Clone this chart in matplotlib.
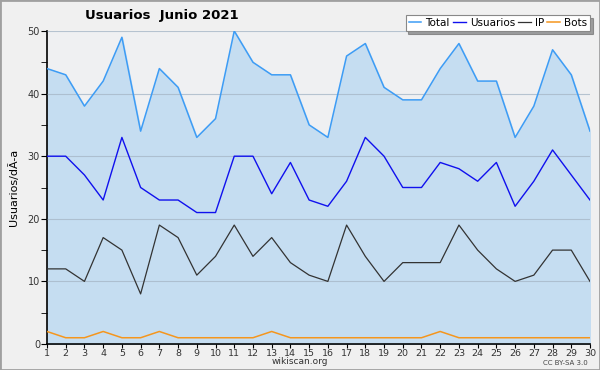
import matplotlib
matplotlib.use("Agg")
import matplotlib.pyplot as plt
from matplotlib.patches import Rectangle

days = list(range(1, 31))
total = [44, 43, 38, 42, 49, 34, 44, 41, 33, 36, 50, 45, 43, 43, 35, 33, 46, 48, 41, 39, 39, 44, 48, 42, 42, 33, 38, 47, 43, 34]
usuarios = [30, 30, 27, 23, 33, 25, 23, 23, 21, 21, 30, 30, 24, 29, 23, 22, 26, 33, 30, 25, 25, 29, 28, 26, 29, 22, 26, 31, 27, 23]
ip = [12, 12, 10, 17, 15, 8, 19, 17, 11, 14, 19, 14, 17, 13, 11, 10, 19, 14, 10, 13, 13, 13, 19, 15, 12, 10, 11, 15, 15, 10]
bots = [2, 1, 1, 2, 1, 1, 2, 1, 1, 1, 1, 1, 2, 1, 1, 1, 1, 1, 1, 1, 1, 2, 1, 1, 1, 1, 1, 1, 1, 1]
yticks = [0, 10, 20, 30, 40, 50]

fig = plt.figure(figsize=(6, 3.7), dpi=100, facecolor="#f0f0f0")
fig.patches.append(Rectangle((0, 0), 1, 1, transform=fig.transFigure, fill=False,
                             edgecolor="#a0a0a0", linewidth=2))
ax = fig.add_axes([47/600, 1 - 344/370, 543/600, 313/370])
ax.set_facecolor("#eff0f2")

ax.fill_between(days, total, 0, color="#c5ddf1", zorder=1)
ax.plot(days, total, color="#3d9cf5", lw=1.1, label="Total", zorder=3)
ax.plot(days, usuarios, color="#1010ee", lw=1.0, label="Usuarios", zorder=3)
ax.plot(days, ip, color="#333333", lw=0.9, label="IP", zorder=3)
ax.plot(days, bots, color="#f5961e", lw=1.1, label="Bots", zorder=3)

ax.set_xlim(1, 30)
ax.set_ylim(0, 50)
ax.set_xticks(days)
ax.set_yticks(yticks)
ax.set_yticks([5, 15, 25, 35, 45], minor=True)
ax.grid(axis="y", color="#a8b8c8", lw=0.8, alpha=0.8, zorder=2)
ax.set_axisbelow(False)
for s in ["top", "right"]:
    ax.spines[s].set_visible(False)
ax.spines["left"].set_linewidth(1.2)
ax.spines["bottom"].set_linewidth(1.2)
ax.tick_params(axis="x", which="major", labelsize=6.8, length=3, color="black", labelcolor="#333333", pad=0.5)
ax.tick_params(axis="y", which="major", labelsize=7, length=4, color="black", labelcolor="#333333", pad=1)
ax.tick_params(axis="y", which="minor", length=4)
ax.set_ylabel("Usuarios/dÃ-a", fontsize=8, labelpad=6)

fig.text(85/600, 1 - 16/370, "Usuarios  Junio 2021", fontsize=9.5, fontweight="bold", va="center", ha="left")
fig.text(300/600, 1 - 362/370, "wikiscan.org", fontsize=6.5, ha="center", va="center", color="#333333")
fig.text(588/600, 1 - 363/370, "CC BY-SA 3.0", fontsize=5, ha="right", va="center", color="#444444")

leg = ax.legend(loc="upper right", bbox_to_anchor=(1.0, 1 + 16/313), ncol=4, fontsize=7.5,
                frameon=True, fancybox=False, shadow=True, handlelength=1.2, handletextpad=0.4,
                columnspacing=0.3, borderpad=0.3, borderaxespad=0)
leg.get_frame().set_edgecolor("#888888")
leg.get_frame().set_linewidth(0.8)

fig.savefig("out.png", dpi=100, facecolor=fig.get_facecolor())
